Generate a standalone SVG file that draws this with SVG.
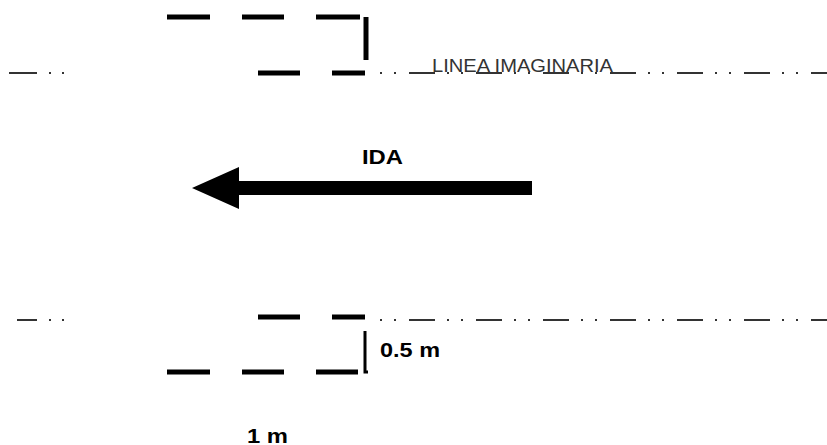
<svg xmlns="http://www.w3.org/2000/svg" width="827" height="445" viewBox="0 0 827 445">
<style>
.thick{stroke:#000;stroke-width:5;fill:none}
.dim{stroke:#000;stroke-width:3;fill:none}
.imag{stroke:#333;stroke-width:2;fill:none}
.lbl{font-family:"Liberation Sans",Arial,sans-serif;font-weight:bold;font-size:21px;fill:#000}
.lbl2{font-family:"Liberation Sans",Arial,sans-serif;font-size:18px;fill:#333}
</style>
<rect width="827" height="445" fill="#fff"/>
<g id="connectors">
<line class="imag" x1="9" y1="73" x2="65" y2="73" stroke-dasharray="28 12 2 11 2 20"/>
<line class="imag" x1="368" y1="73" x2="827" y2="73" stroke-dasharray="26 12 2 12 2 13" stroke-dashoffset="26"/>
<line class="imag" x1="17" y1="320" x2="65" y2="320" stroke-dasharray="20 12 2 11 2 20"/>
<line class="imag" x1="368" y1="320" x2="827" y2="320" stroke-dasharray="26 12 2 12 2 13" stroke-dashoffset="26"/>
</g>
<g id="top-lane">
<line class="thick" x1="167" y1="17" x2="210" y2="17"/>
<line class="thick" x1="242" y1="17" x2="284" y2="17"/>
<line class="thick" x1="316" y1="17" x2="360" y2="17"/>
<line class="thick" x1="366" y1="17" x2="366" y2="60"/>
<line class="thick" x1="258" y1="73" x2="300" y2="73"/>
<line class="thick" x1="332" y1="73" x2="365" y2="73"/>
</g>
<g id="bottom-lane">
<line class="thick" x1="258" y1="317" x2="300" y2="317"/>
<line class="thick" x1="332" y1="317" x2="365" y2="317"/>
<line class="thick" x1="167" y1="372" x2="210" y2="372"/>
<line class="thick" x1="242" y1="372" x2="284" y2="372"/>
<line class="thick" x1="316" y1="372" x2="358" y2="372"/>
<path class="dim" d="M365 331 V372 H368"/>
</g>
<g id="imaginary-label">
<text class="lbl2" x="432" y="72" textLength="181" lengthAdjust="spacingAndGlyphs">LINEA IMAGINARIA</text>
</g>
<g id="ida-arrow">
<polygon points="532,181 239,181 239,167 192,188 239,209 239,195 532,195" fill="#000"/>
<text class="lbl" x="362" y="164" textLength="41" lengthAdjust="spacingAndGlyphs">IDA</text>
</g>
<g id="dim-labels">
<text class="lbl" x="380" y="357" textLength="60" lengthAdjust="spacingAndGlyphs">0.5 m</text>
<text class="lbl" x="247" y="443" textLength="41" lengthAdjust="spacingAndGlyphs">1 m</text>
</g>
</svg>
